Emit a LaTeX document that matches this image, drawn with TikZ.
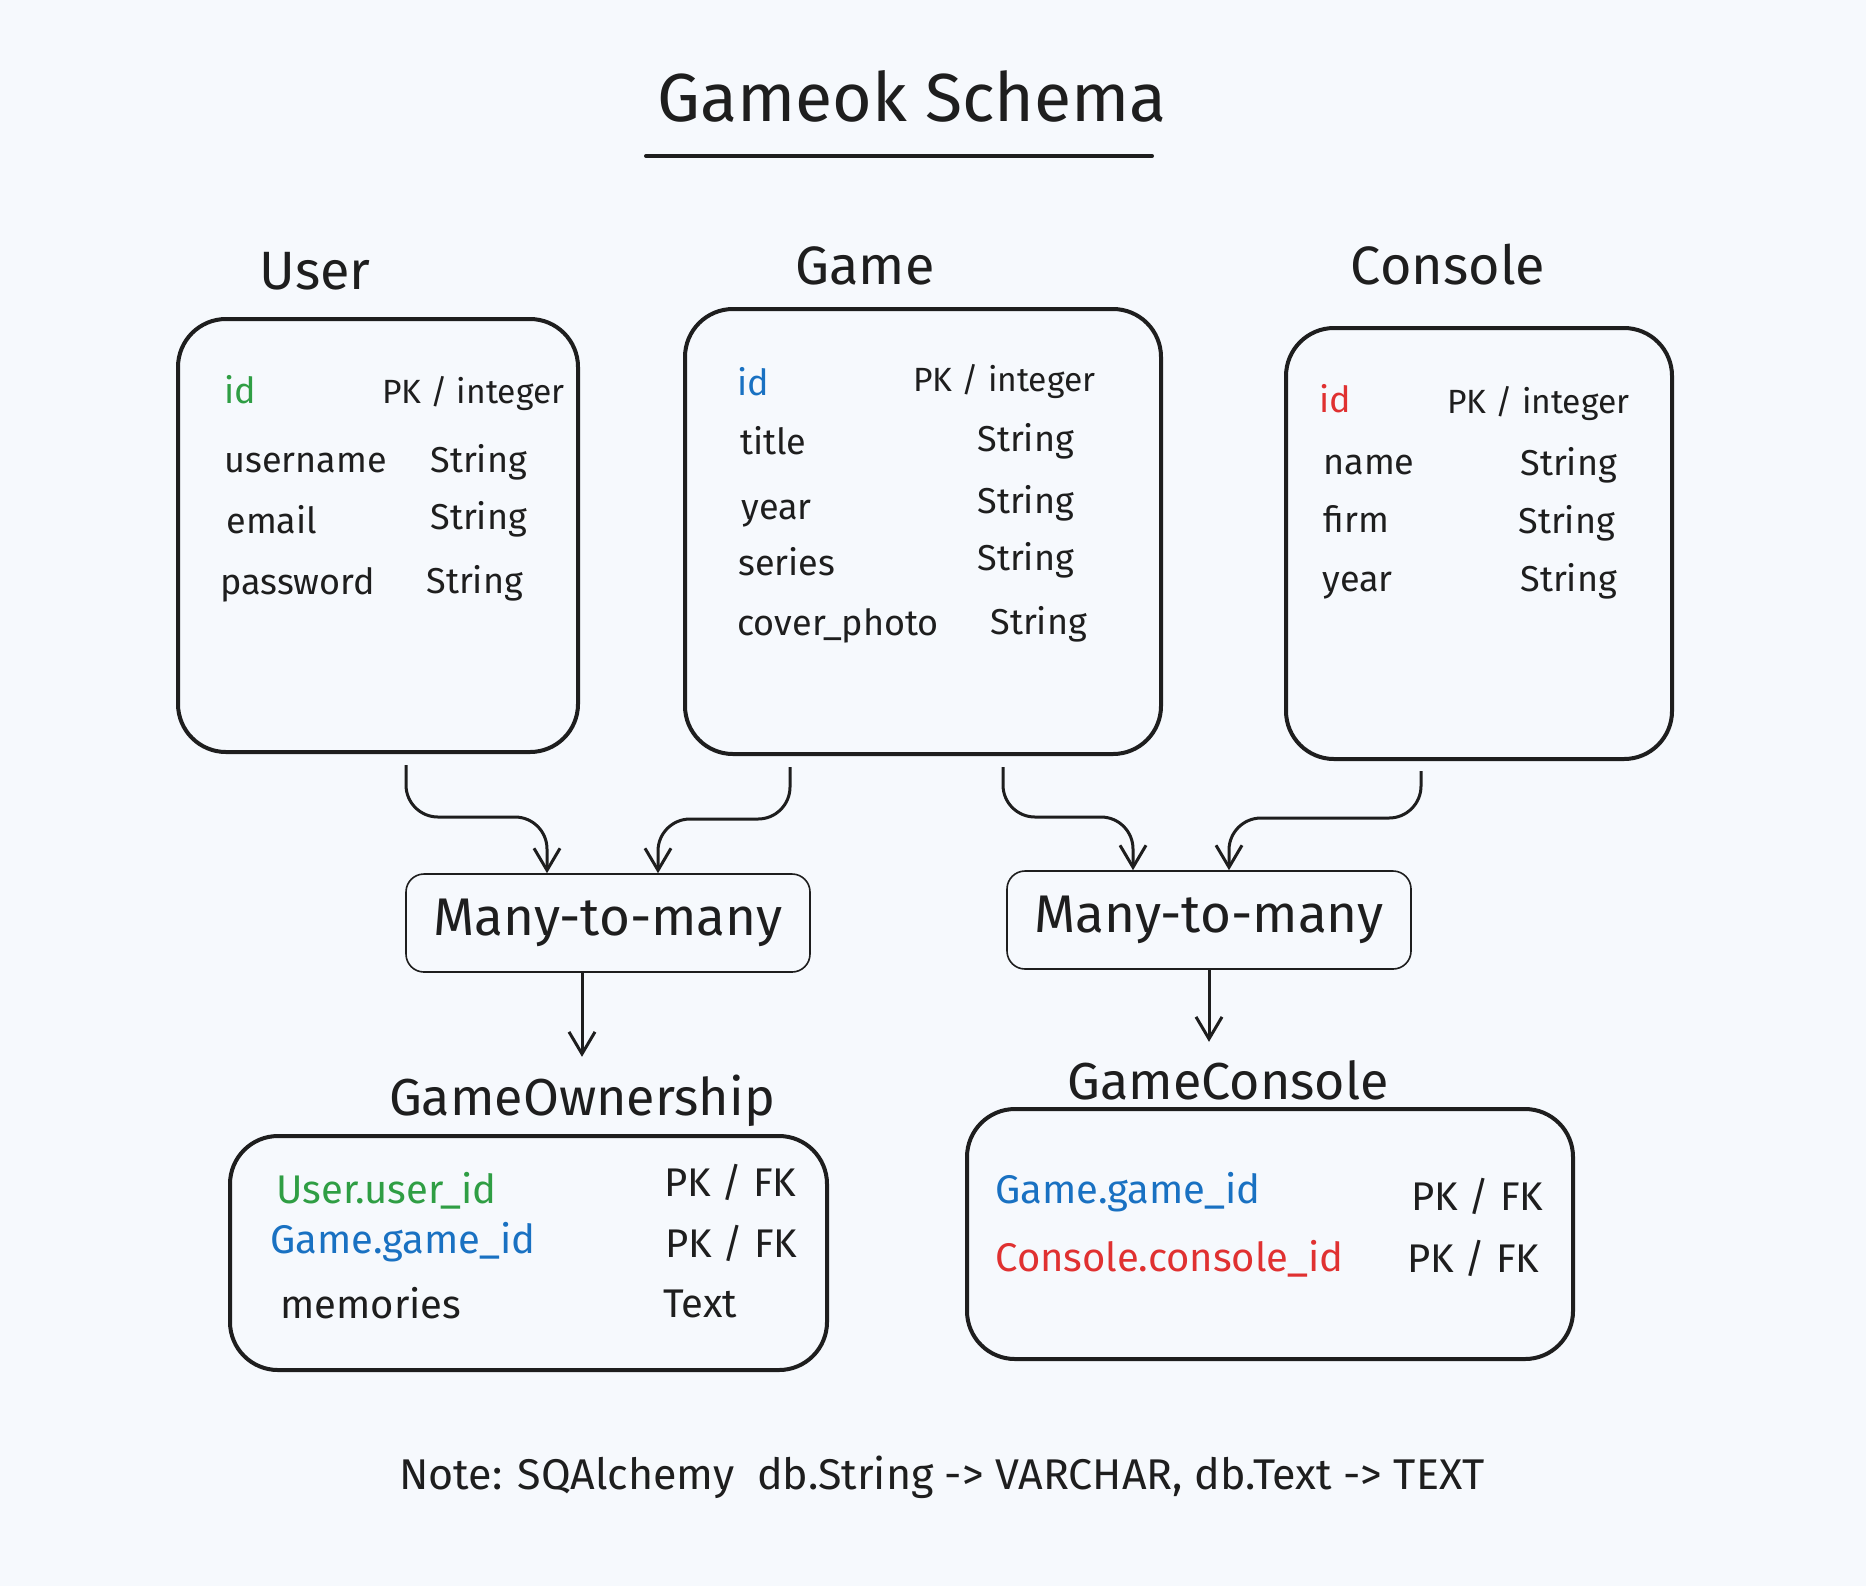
\documentclass[tikz,border=0pt]{standalone}
\usepackage{fontspec}
\setmainfont{Fira Sans}
\usetikzlibrary{arrows.meta}
\definecolor{bg}{HTML}{F6F9FD}
\definecolor{ink}{HTML}{1E1E1E}
\definecolor{egreen}{HTML}{2F9E44}
\definecolor{eblue}{HTML}{1971C2}
\definecolor{ered}{HTML}{E03131}
\begin{document}
\begin{tikzpicture}[x=0.5pt,y=-0.5pt,
  tablebox/.style={draw=ink, line width=2pt, rounded corners=24pt, inner sep=0pt},
  relbox/.style={draw=ink, line width=0.8pt, rounded corners=9pt, inner sep=0pt, minimum width=202pt, minimum height=49pt, font=\fontsize{26.5}{30}\selectfont, text=ink},
  tname/.style={font=\fontsize{27}{32}\selectfont, text=ink, inner sep=0pt, text height=0.7em, text depth=0pt},
  jname/.style={font=\fontsize{26}{30}\selectfont, text=ink, inner sep=0pt, text height=0.7em, text depth=0pt},
  fld/.style={anchor=west, font=\fontsize{18}{22}\selectfont, text=ink, inner sep=0pt, text height=0.6em, text depth=0pt},
  pk/.style={anchor=west, font=\fontsize{16.8}{20}\selectfont, text=ink, inner sep=0pt, text height=0.6em, text depth=0pt},
  jfld/.style={anchor=west, font=\fontsize{20}{24}\selectfont, text=ink, inner sep=0pt, text height=0.6em, text depth=0pt},
  conn/.style={draw=ink, line width=1.5pt, rounded corners=16pt, -{Straight Barb[length=11pt,width=13pt,line width=1.5pt]}},
]
\fill[bg] (0,0) rectangle (1866,1586);
\useasboundingbox (0,0) rectangle (1866,1586);

% title
\node[font=\fontsize{34}{40}\selectfont, text=ink, inner sep=0pt, text height=0.7em, text depth=0pt] (title) at (912,114) {Gameok Schema};
\draw[ink, line width=2pt, line cap=round] (646,156) -- (1152,156);

% table names
\node[tname] (lbluser) at (315,282) {User};
\node[tname] (lblgame) at (865,277) {Game};
\node[tname] (lblconsole) at (1448,277) {Console};
\node[jname] (lblgo) at (582,1108) {GameOwnership};
\node[jname] (lblgc) at (1228,1092) {GameConsole};

% boxes
\node[tablebox, minimum width=200pt, minimum height=216.5pt] (user) at (378,535.5) {};
\node[tablebox, minimum width=238pt, minimum height=222.5pt] (game) at (923,531.5) {};
\node[tablebox, minimum width=193pt, minimum height=215.5pt] (console) at (1479,543.5) {};
\node[relbox] (mleft) at (608,923) {Many-to-many};
\node[relbox] (mright) at (1209,920) {Many-to-many};
\node[tablebox, minimum width=298.5pt, minimum height=117pt] (go) at (528.5,1253) {};
\node[tablebox, minimum width=303pt, minimum height=125pt] (gc) at (1270,1234) {};

% User fields
\node[fld, text=egreen] (u1) at (224,397) {id};
\node[pk] (u1t) at (382,397) {PK / integer};
\node[fld] (u2) at (224,466) {username};
\node[fld] (u2t) at (430,466) {String};
\node[fld] (u3) at (226,527) {email};
\node[fld] (u3t) at (430,523) {String};
\node[fld] (u4) at (220,588) {password};
\node[fld] (u4t) at (426,587) {String};

% Game fields
\node[fld, text=eblue] (g1) at (737,389) {id};
\node[pk] (g1t) at (913,385) {PK / integer};
\node[fld] (g2) at (740,448) {title};
\node[fld] (g2t) at (977,445) {String};
\node[fld] (g3) at (741,513) {year};
\node[fld] (g3t) at (977,507) {String};
\node[fld] (g4) at (738,569) {series};
\node[fld] (g4t) at (977,564) {String};
\node[fld] (g5) at (737,629) {cover\_photo};
\node[fld] (g5t) at (990,628) {String};

% Console fields
\node[fld, text=ered] (c1) at (1319,406) {id};
\node[pk] (c1t) at (1447,407) {PK / integer};
\node[fld] (c2) at (1323,468) {name};
\node[fld] (c2t) at (1520,469) {String};
\node[fld] (c3) at (1323,526) {firm};
\node[fld] (c3t) at (1518,527) {String};
\node[fld] (c4) at (1322,585) {year};
\node[fld] (c4t) at (1520,585) {String};

% GameOwnership fields
\node[jfld, text=egreen] (o1) at (276,1197) {User.user\_id};
\node[jfld] (o1t) at (664,1190) {PK / FK};
\node[jfld, text=eblue] (o2) at (270,1247) {Game.game\_id};
\node[jfld] (o2t) at (665,1251) {PK / FK};
\node[jfld] (o3) at (280,1312) {memories};
\node[jfld] (o3t) at (663,1311) {Text};

% GameConsole fields
\node[jfld, text=eblue] (k1) at (995,1197) {Game.game\_id};
\node[jfld] (k1t) at (1411,1204) {PK / FK};
\node[jfld, text=ered] (k2) at (995,1265) {Console.console\_id};
\node[jfld] (k2t) at (1407,1266) {PK / FK};

% note
\node[font=\fontsize{21.5}{26}\selectfont, text=ink, inner sep=0pt] (note) at (942,1477) {Note: SQAlchemy\ \ db.String -> VARCHAR, db.Text -> TEXT};

% connectors
\draw[conn] ([shift={(28,11)}]user.south) -- ++(0,52) -| ([xshift=-30.5pt]mleft.north);
\draw[conn] ([shift={(-133,11)}]game.south) -- ++(0,52) -| ([xshift=25pt]mleft.north);
\draw[conn] ([shift={(80,11)}]game.south) -- ++(0,50) -| ([xshift=-38pt]mright.north);
\draw[conn] ([shift={(-58,10)}]console.south) -- ++(0,47) -| ([xshift=10pt]mright.north);
\draw[conn] ([xshift=-13pt]mleft.south) -- ([xshift=-13pt,yshift=-42pt]mleft.south);
\draw[conn] (mright.south) -- ([yshift=-36pt]mright.south);
\end{tikzpicture}
\end{document}
